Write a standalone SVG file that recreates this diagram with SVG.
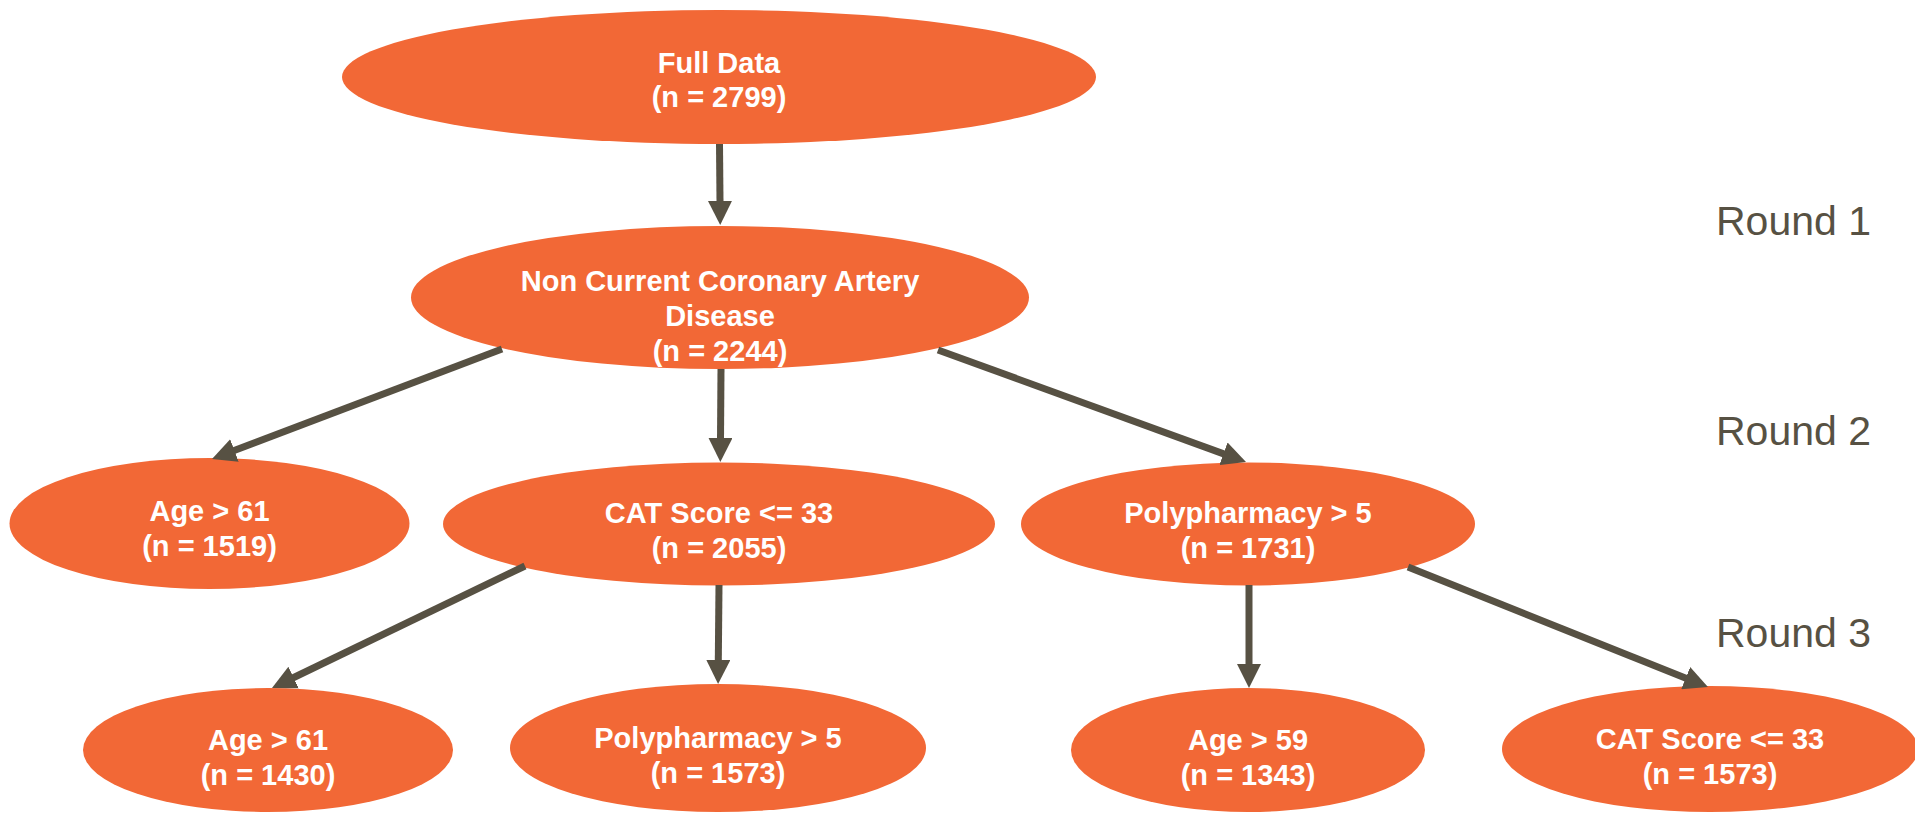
<svg xmlns="http://www.w3.org/2000/svg" width="1915" height="813" viewBox="0 0 1915 813">
<defs>
<style>
.node{fill:#F26836;}
.t{fill:#FFFFFF;font-family:"Liberation Sans",Arial,sans-serif;font-weight:bold;font-size:29px;text-anchor:middle;}
.edge{stroke:#575143;stroke-width:7;fill:none;marker-end:url(#ah);}
.round{fill:#575143;font-family:"Liberation Sans",Arial,sans-serif;font-size:41px;}
</style>
<marker id="ah" markerUnits="userSpaceOnUse" markerWidth="24" markerHeight="24" viewBox="0 0 24 24" refX="1" refY="12" orient="auto">
<path d="M0,0 L24,12 L0,24 z" fill="#575143"/>
</marker>
</defs>
<rect width="1915" height="813" fill="#FFFFFF"/>
<g id="n-full">
<ellipse class="node" cx="719" cy="77" rx="377" ry="67"/>
<text class="t" x="719" y="73">Full Data</text>
<text class="t" x="719" y="107">(n = 2799)</text>
</g>
<g id="n-ncad">
<ellipse class="node" cx="720" cy="297.5" rx="309" ry="71.5"/>
<text class="t" x="720" y="291">Non Current Coronary Artery</text>
<text class="t" x="720" y="326">Disease</text>
<text class="t" x="720" y="361">(n = 2244)</text>
</g>
<g id="n-age61a">
<ellipse class="node" cx="209.5" cy="523.5" rx="200" ry="65.5"/>
<text class="t" x="209.5" y="521">Age &gt; 61</text>
<text class="t" x="209.5" y="556">(n = 1519)</text>
</g>
<g id="n-cat2055">
<ellipse class="node" cx="719" cy="524" rx="276" ry="61.5"/>
<text class="t" x="719" y="523">CAT Score &lt;= 33</text>
<text class="t" x="719" y="558">(n = 2055)</text>
</g>
<g id="n-poly1731">
<ellipse class="node" cx="1248" cy="524" rx="227" ry="61.5"/>
<text class="t" x="1248" y="523">Polypharmacy &gt; 5</text>
<text class="t" x="1248" y="558">(n = 1731)</text>
</g>
<g id="n-age61b">
<ellipse class="node" cx="268" cy="750" rx="185" ry="62"/>
<text class="t" x="268" y="750">Age &gt; 61</text>
<text class="t" x="268" y="785">(n = 1430)</text>
</g>
<g id="n-poly1573">
<ellipse class="node" cx="718" cy="748" rx="208" ry="64"/>
<text class="t" x="718" y="748">Polypharmacy &gt; 5</text>
<text class="t" x="718" y="783">(n = 1573)</text>
</g>
<g id="n-age59">
<ellipse class="node" cx="1248" cy="750" rx="177" ry="62"/>
<text class="t" x="1248" y="750">Age &gt; 59</text>
<text class="t" x="1248" y="785">(n = 1343)</text>
</g>
<g id="n-cat1573">
<ellipse class="node" cx="1710" cy="749" rx="208" ry="63"/>
<text class="t" x="1710" y="749">CAT Score &lt;= 33</text>
<text class="t" x="1710" y="784">(n = 1573)</text>
</g>
<g id="connectors">
<line class="edge" x1="719.5" y1="144" x2="720" y2="202"/>
<line class="edge" x1="502" y1="349" x2="233.5" y2="450.8"/>
<line class="edge" x1="721" y1="369" x2="720.5" y2="439"/>
<line class="edge" x1="938" y1="350" x2="1224.4" y2="454.1"/>
<line class="edge" x1="525" y1="566" x2="292.7" y2="678"/>
<line class="edge" x1="719" y1="585" x2="718.3" y2="661"/>
<line class="edge" x1="1249" y1="585" x2="1249" y2="665"/>
<line class="edge" x1="1408" y1="567" x2="1686.6" y2="678.5"/>
</g>
<g id="rounds">
<text class="round" x="1716" y="235">Round 1</text>
<text class="round" x="1716" y="445">Round 2</text>
<text class="round" x="1716" y="647">Round 3</text>
</g>
</svg>
